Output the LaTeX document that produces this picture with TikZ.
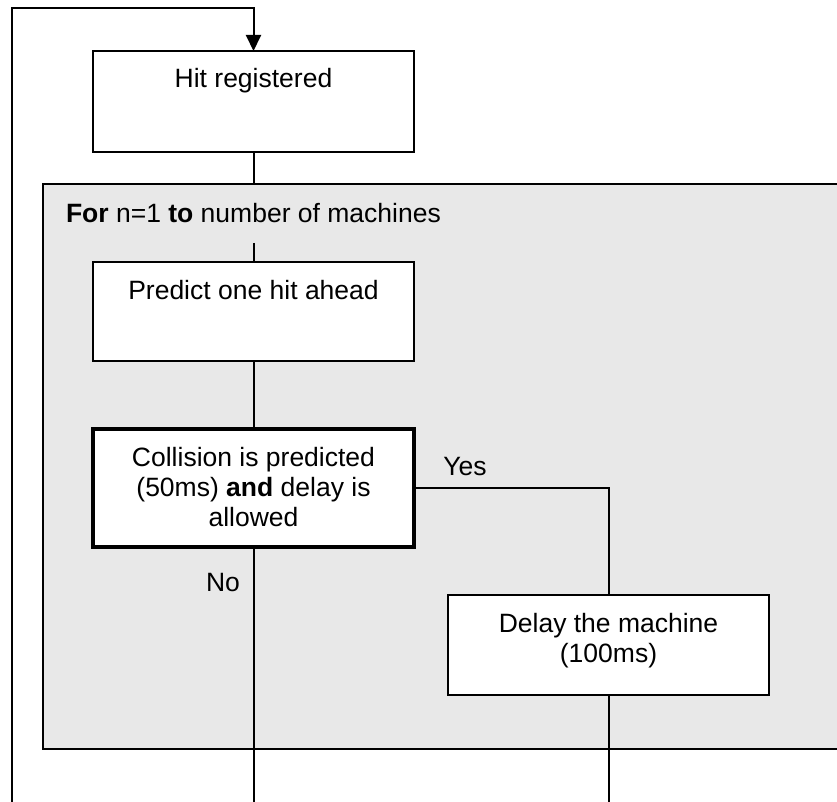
\documentclass[tikz,border=0pt]{standalone}
\usepackage{fontspec}
\setmainfont{Liberation Sans}
\usetikzlibrary{arrows.meta}
\definecolor{loopgray}{RGB}{232,232,232}
\begin{document}
\begin{tikzpicture}[x=1pt,y=-1pt,
  line width=2pt,
  stepbox/.style={draw, fill=white, rectangle, minimum width=321pt,
    outer sep=0pt, inner sep=0pt, line width=2pt},
  txt/.style={font=\fontsize{26.5}{30}\selectfont, align=center,
    inner sep=0pt, anchor=base},
  flow/.style={draw, line width=2pt},
  tip/.style={-{Triangle[width=15pt,length=16pt]}},
]
\useasboundingbox (0,0) rectangle (837,802);

% loop region for the machines
\fill[loopgray] (43,184) rectangle (837,749);
\draw (837,184) -- (43,184) -- (43,749) -- (837,749);
\node[txt, anchor=base west] (forlabel) at (65,222.5)
  {\textbf{For} n=1 \textbf{to} number of machines};

% process steps
\node[stepbox, minimum height=101pt] (hit) at (253.5,101.5) {};
\node[stepbox, minimum height=99pt] (predict) at (253.5,311.5) {};
\node[stepbox, minimum height=118pt, line width=4pt] (coll) at (253.5,488) {};
\node[stepbox, minimum height=100pt] (delay) at (608.5,645) {};

% free ends and joints
\coordinate (looptop) at (253.5,184);
\coordinate (forline) at (253.5,243);
\coordinate (loopin) at (12,802);
\coordinate (loopcorner) at (253.5,8);
\coordinate (noexit) at (253.5,802);
\coordinate (delayexit) at (608.5,802);

% connectors
\draw[flow, tip] (loopin) |- (loopcorner) -- (hit.north);
\draw[flow] (hit.south) -- (looptop);
\draw[flow] (forline) -- (predict.north);
\draw[flow] (predict.south) -- (coll.north);
\draw[flow] (coll.east) -| (delay.north);
\draw[flow] (coll.south) -- (noexit);
\draw[flow] (delay.south) -- (delayexit);

% step texts (base anchor sits on the last line)
\node[txt] (hit-t) at ([yshift=-37pt]hit.north) {Hit registered};
\node[txt] (predict-t) at ([yshift=-37pt]predict.north) {Predict one hit ahead};
\node[txt] (coll-t) at ([yshift=-97.5pt]coll.north)
  {Collision is predicted\\(50ms) \textbf{and} delay is\\allowed};
\node[txt] (delay-t) at ([yshift=-67pt]delay.north) {Delay the machine\\(100ms)};

% branch labels
\node[txt] (yes) at (465,475.5) {Yes};
\node[txt] (no) at (223,591.5) {No};
\end{tikzpicture}
\end{document}
